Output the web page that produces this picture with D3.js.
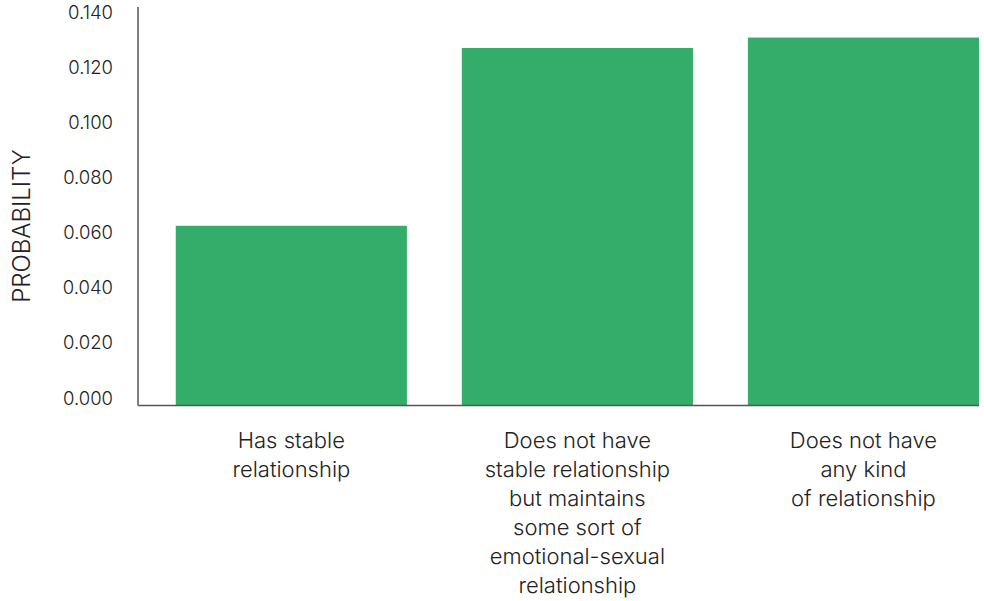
<!DOCTYPE html>
<html>
<head>
<meta charset="utf-8">
<script src="https://cdn.jsdelivr.net/npm/d3@7"></script>
<style>
  body { margin: 0; background: #fff; }
  text { font-family: Inter, "Noto Sans", sans-serif; font-weight: 300; fill: #222; }
</style>
</head>
<body>
<svg id="chart" width="984" height="601"></svg>
<script>
// Data
const categories = [
    ["Has stable", "relationship"],
    ["Does not have", "stable relationship", "but maintains", "some sort of", "emotional-sexual", "relationship"],
    ["Does not have", "any kind", "of relationship"]
];
const probabilities = [0.0653, 0.1299, 0.1337];
const yTicks = [0, 0.02, 0.04, 0.06, 0.08, 0.10, 0.12, 0.14];

// Layout
const margin = { top: 7, right: 5, bottom: 195, left: 138 };
const width = 984, height = 601;

const svg = d3.select('#chart');

const x = d3.scaleBand()
    .domain(d3.range(categories.length))
    .range([margin.left, width - margin.right])
    .paddingInner(0.192)
    .paddingOuter(0.066)
    .align(1);

const y = d3.scaleLinear()
    .domain([0, 0.1448])
    .range([height - margin.bottom - 0.5, margin.top]);

// Bars
svg.append('g')
    .selectAll('rect')
    .data(probabilities)
    .join('rect')
    .attr('x', (d, i) => x(i))
    .attr('width', x.bandwidth())
    .attr('y', d => y(d))
    .attr('height', d => y(0) - y(d))
    .attr('fill', '#34ad6a');

// Axis lines
svg.append('line')
    .attr('x1', margin.left).attr('x2', margin.left)
    .attr('y1', margin.top).attr('y2', y(0))
    .attr('stroke', '#555').attr('stroke-width', 1.5);
svg.append('line')
    .attr('x1', margin.left).attr('x2', width - margin.right)
    .attr('y1', y(0)).attr('y2', y(0))
    .attr('stroke', '#555').attr('stroke-width', 1.5);

// Y tick labels (baseline sits on the value)
svg.append('g')
    .selectAll('text')
    .data(yTicks)
    .join('text')
    .attr('x', 113)
    .attr('y', d => y(d) - 1)
    .attr('text-anchor', 'end')
    .style('font-size', '18.5px')
    .text(d => d3.format('.3f')(d));

// Y axis title
svg.append('text')
    .attr('transform', 'translate(30,226) rotate(-90)')
    .attr('text-anchor', 'middle')
    .style('font-size', '24px')
    .text('PROBABILITY');

// Category labels
const labels = svg.append('g')
    .selectAll('text')
    .data(categories)
    .join('text')
    .attr('text-anchor', 'middle')
    .style('font-size', '22px');

labels.selectAll('tspan')
    .data((d, i) => d.map(line => ({ line, i })))
    .join('tspan')
    .attr('x', d => x(d.i) + x.bandwidth() / 2)
    .attr('y', (d, j) => 448 + j * 29)
    .text(d => d.line);
</script>
</body>
</html>
